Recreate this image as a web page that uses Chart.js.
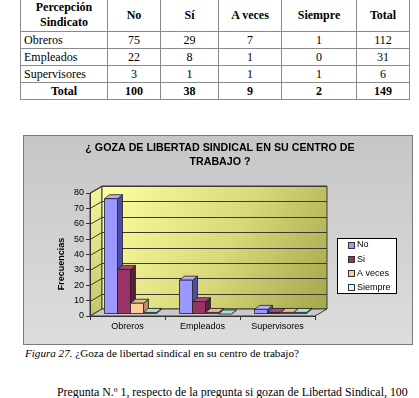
<!DOCTYPE html>
<html lang="es">
<head>
<meta charset="utf-8">
<title>Libertad sindical</title>
<script src="https://cdn.jsdelivr.net/npm/chart.js@4.4.1/dist/chart.umd.min.js"></script>
<style>
  html, body { margin: 0; padding: 0; }
  body { width: 419px; height: 398px; overflow: hidden; position: relative; background: #fff; font-family: "Liberation Serif", "Times New Roman", serif; color: #000; }
  #tabla { position: absolute; left: 20px; top: -2px; width: 389px; border-collapse: collapse; font-size: 12px; table-layout: fixed; }
  #tabla td, #tabla th { border: 1px solid #8a8a8a; padding: 0 3px; line-height: 15px; height: 16px; text-align: center; }
  #tabla th { font-weight: bold; height: 32px; }
  #tabla td.cat { text-align: left; }
  #tabla tr.total td { font-weight: bold; }
  #grafico { position: absolute; left: 23px; top: 135px; width: 390px; height: 210px; box-sizing: border-box; border: 1px solid #7a7a7a; background: linear-gradient(#c6c6c6, #dddddd); }
  #grafico canvas { position: absolute; left: 0; top: 0; }
  #pie { position: absolute; left: 25px; top: 345px; font-size: 11.1px; line-height: 16px; white-space: nowrap; }
  #parrafo { position: absolute; left: 57px; top: 384px; font-size: 11.9px; line-height: 16px; white-space: nowrap; }
</style>
</head>
<body>
<table id="tabla">
  <colgroup><col style="width:87px"><col style="width:53px"><col style="width:58px"><col style="width:63px"><col style="width:75px"><col style="width:53px"></colgroup>
  <thead><tr id="cabecera"></tr></thead>
  <tbody id="cuerpo"></tbody>
</table>

<div id="grafico"><canvas id="chartSindical" width="388" height="208"></canvas></div>

<div id="pie"><i>Figura 27.</i> ¿Goza de libertad sindical en su centro de trabajo?</div>
<div id="parrafo">Pregunta N.º 1, respecto de la pregunta si gozan de Libertad Sindical, 100</div>

<script>
// --- DATOS ---
const categorias = ["Obreros", "Empleados", "Supervisores"];
const seriesNombres = ["No", "Si", "A veces", "Siempre"];
const columnasTabla = ["No", "Sí", "A veces", "Siempre"];
const serieNo = [75, 22, 3];
const serieSi = [29, 8, 1];
const serieAVeces = [7, 1, 1];
const serieSiempre = [1, 0, 1];
const ticksY = [0, 10, 20, 30, 40, 50, 60, 70, 80];
const tituloGrafico = ["¿ GOZA DE LIBERTAD SINDICAL EN SU CENTRO DE", "TRABAJO ?"];

const series = [serieNo, serieSi, serieAVeces, serieSiempre];

// --- TABLA ---
const cab = document.getElementById("cabecera");
cab.innerHTML = `<th>Percepción<br>Sindicato</th>` + columnasTabla.map(c => `<th>${c}</th>`).join("") + `<th>Total</th>`;
const cuerpo = document.getElementById("cuerpo");
categorias.forEach((cat, i) => {
  const vals = series.map(s => s[i]);
  const tot = vals.reduce((a, b) => a + b, 0);
  cuerpo.innerHTML += `<tr><td class="cat">${cat}</td>${vals.map(v => `<td>${v}</td>`).join("")}<td>${tot}</td></tr>`;
});
const totCols = series.map(s => s.reduce((a, b) => a + b, 0));
cuerpo.innerHTML += `<tr class="total"><td>Total</td>${totCols.map(v => `<td>${v}</td>`).join("")}<td>${totCols.reduce((a, b) => a + b, 0)}</td></tr>`;

// --- ESTILOS 3D ---
const colFrente = ["#9999ff", "#993366", "#ffcc99", "#ccffff"];
const colTapa = ["#b0b0ff", "#a84a75", "#e8b98b", "#a9dede"];
const colLado = ["#4c4ca6", "#5a1e3e", "#b58f68", "#7fb0b0"];
const DX = 12, DY = -7;      // profundidad de la pared
const BDX = 5, BDY = -4;     // profundidad de cada barra
const SX = 3, SY = -2;       // barras a media profundidad
const FUENTE = "'Liberation Sans', Arial, sans-serif";

function poly(ctx, pts, fill) {
  ctx.beginPath();
  ctx.moveTo(pts[0][0], pts[0][1]);
  pts.slice(1).forEach(p => ctx.lineTo(p[0], p[1]));
  ctx.closePath();
  ctx.fillStyle = fill;
  ctx.fill();
  ctx.stroke();
}

const escena3D = {
  id: "escena3D",
  beforeDraw(chart) {
    const { ctx, chartArea: a, scales: { y } } = chart;
    const yTop = y.getPixelForValue(y.max), yBot = y.getPixelForValue(0);
    ctx.save();
    ctx.lineWidth = 1;
    ctx.strokeStyle = "#3a3a3a";
    // pared lateral
    const gl = ctx.createLinearGradient(a.left, yTop, a.left + DX, yBot);
    gl.addColorStop(0, "#f4f49a"); gl.addColorStop(1, "#c4c46a");
    poly(ctx, [[a.left, yTop], [a.left + DX, yTop + DY], [a.left + DX, yBot + DY], [a.left, yBot]], gl);
    // pared de fondo
    const g = ctx.createLinearGradient(a.left + DX, yTop + DY, a.right + DX, yBot + DY);
    g.addColorStop(0, "#ffffa0"); g.addColorStop(0.55, "#d8d878"); g.addColorStop(1, "#a6a64a");
    poly(ctx, [[a.left + DX, yTop + DY], [a.right + DX, yTop + DY], [a.right + DX, yBot + DY], [a.left + DX, yBot + DY]], g);
    // lineas de division
    ctx.beginPath();
    y.ticks.forEach(t => {
      const py = Math.round(y.getPixelForValue(t.value)) + 0.5;
      ctx.moveTo(a.left, py); ctx.lineTo(a.left + DX, py + DY); ctx.lineTo(a.right + DX, py + DY);
    });
    ctx.stroke();
    // piso
    poly(ctx, [[a.left, yBot], [a.right, yBot], [a.right + DX, yBot + DY], [a.left + DX, yBot + DY]], "#c9c9c9");

    // titulo del grafico
    ctx.fillStyle = "#000";
    ctx.font = "bold 10.7px " + FUENTE;
    ctx.textAlign = "center";
    ctx.textBaseline = "middle";
    tituloGrafico.forEach((linea, i) => ctx.fillText(linea, chart.width / 2 + 2, 12 + i * 14));
    ctx.restore();
  },
  beforeDatasetsDraw(chart) {
    chart.ctx.save();
    chart.ctx.translate(SX, SY);
  },
  afterDatasetsDraw(chart) {
    const { ctx } = chart;
    ctx.lineWidth = 0.8;
    ctx.strokeStyle = "#222";
    const metas = chart.getSortedVisibleDatasetMetas().slice().sort((m1, m2) => m1.index - m2.index);
    chart.data.labels.forEach((lab, i) => {
      metas.forEach(meta => {
        const b = meta.data[i];
        const k = meta.index;
        const x0 = b.x - b.width / 2, x1 = b.x + b.width / 2;
        const yt = b.y, yb = b.base;
        poly(ctx, [[x1, yt], [x1 + BDX, yt + BDY], [x1 + BDX, yb + BDY], [x1, yb]], colLado[k]);
        poly(ctx, [[x0, yt], [x0 + BDX, yt + BDY], [x1 + BDX, yt + BDY], [x1, yt]], colTapa[k]);
        if (yb - yt > 0.5) poly(ctx, [[x0, yt], [x1, yt], [x1, yb], [x0, yb]], colFrente[k]);
      });
    });
    ctx.restore();
  },
  afterDraw(chart) {
    const { ctx } = chart;
    ctx.save();
    // titulo del eje Y
    ctx.font = "bold 9px " + FUENTE;
    ctx.fillStyle = "#000";
    ctx.textAlign = "center";
    ctx.textBaseline = "middle";
    ctx.translate(38, 128);
    ctx.rotate(-Math.PI / 2);
    ctx.fillText("Frecuencias", 0, 0);
    ctx.restore();

    // leyenda con recuadro
    ctx.save();
    const lx = 313, ly = 102, lw = 59, lh = 55;
    ctx.fillStyle = "#fff";
    ctx.fillRect(lx + 0.5, ly + 0.5, lw, lh);
    ctx.strokeStyle = "#000";
    ctx.lineWidth = 1;
    ctx.strokeRect(lx + 0.5, ly + 0.5, lw, lh);
    ctx.font = "9px " + FUENTE;
    ctx.textBaseline = "middle";
    ctx.textAlign = "left";
    chart.data.datasets.forEach((ds, k) => {
      const cy = ly + 6.5 + k * 14.3;
      ctx.fillStyle = colFrente[k];
      ctx.fillRect(lx + 11.5, Math.round(cy) - 2.5, 6, 6);
      ctx.strokeStyle = "#333";
      ctx.strokeRect(lx + 11.5, Math.round(cy) - 2.5, 6, 6);
      ctx.fillStyle = "#000";
      ctx.fillText(ds.label, lx + 20, cy + 0.5);
    });
    ctx.restore();
  }
};

new Chart(document.getElementById("chartSindical").getContext("2d"), {
  type: "bar",
  data: {
    labels: categorias,
    datasets: seriesNombres.map((nombre, k) => ({
      label: nombre,
      data: series[k],
      backgroundColor: colFrente[k],
      borderWidth: 0
    }))
  },
  options: {
    responsive: false,
    animation: false,
    events: [],
    layout: { padding: { top: 57, left: 0, right: 97, bottom: 0 } },
    datasets: { bar: { categoryPercentage: 0.693, barPercentage: 1 } },
    plugins: {
      legend: { display: false },
      tooltip: { enabled: false },
      title: { display: false }
    },
    scales: {
      x: {
        afterFit: s => { s.height = 28; },
        grid: { offset: true, drawOnChartArea: false, drawTicks: true, tickLength: 4, color: "#333" },
        border: { display: true, color: "#333" },
        ticks: { padding: 1, color: "#000", font: { family: FUENTE, size: 9 } }
      },
      y: {
        min: 0,
        max: 80,
        afterFit: s => { s.width = 66; },
        afterBuildTicks: s => { s.ticks = ticksY.map(v => ({ value: v })); },
        grid: { drawOnChartArea: false, drawTicks: true, tickLength: 4, color: "#333" },
        border: { display: true, color: "#333" },
        ticks: { padding: 2, color: "#000", font: { family: FUENTE, size: 9 } }
      }
    }
  },
  plugins: [escena3D]
});
</script>
</body>
</html>
